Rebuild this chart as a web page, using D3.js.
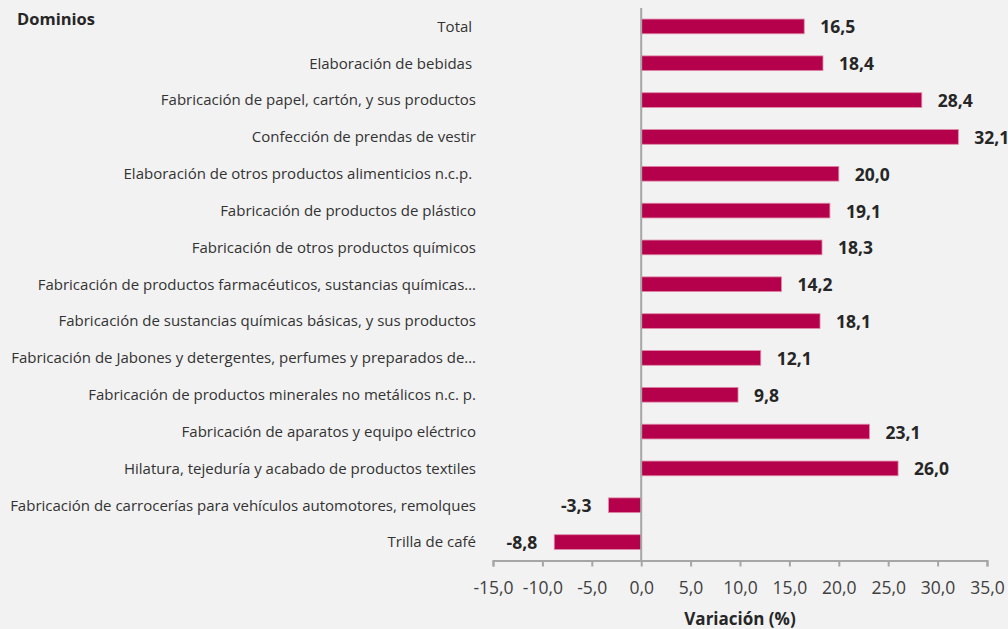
<!DOCTYPE html>
<html><head><meta charset="utf-8">
<script src="https://cdn.jsdelivr.net/npm/d3@7"></script>
<style>
html,body{margin:0;padding:0;background:#f2f2f2;}
svg{display:block;font-family:"Open Sans",sans-serif;}
</style></head><body>
<svg id="c" width="1008" height="629"></svg>
<script>
const categories = [
  "Total ",
  "Elaboración de bebidas ",
  "Fabricación de papel, cartón, y sus productos",
  "Confección de prendas de vestir",
  "Elaboración de otros productos alimenticios n.c.p. ",
  "Fabricación de productos de plástico",
  "Fabricación de otros productos químicos",
  "Fabricación de productos farmacéuticos, sustancias químicas…",
  "Fabricación de sustancias químicas básicas, y sus productos",
  "Fabricación de Jabones y detergentes, perfumes y preparados de…",
  "Fabricación de productos minerales no metálicos n.c. p.",
  "Fabricación de aparatos y equipo eléctrico",
  "Hilatura, tejeduría y acabado de productos textiles",
  "Fabricación de carrocerías para vehículos automotores, remolques",
  "Trilla de café"
];
const values = [16.5, 18.4, 28.4, 32.1, 20.0, 19.1, 18.3, 14.2, 18.1, 12.1, 9.8, 23.1, 26.0, -3.3, -8.8];
const xTicks = [-15, -10, -5, 0, 5, 10, 15, 20, 25, 30, 35];
const yTitle = "Dominios";
const xTitle = "Variación (%)";

const fmt = v => v.toFixed(1).replace(".", ",");
const svg = d3.select("#c");
const axisY = 560.5;
const x = d3.scaleLinear().domain([-15, 35]).range([493, 987]);
const y = d3.scaleBand().domain(categories).range([8, axisY]).paddingInner(0.6).paddingOuter(0.3);

// bars
svg.append("g").selectAll("rect").data(values).join("rect")
  .attr("x", d => x(Math.min(0, d)))
  .attr("width", d => Math.abs(x(d) - x(0)))
  .attr("y", (d, i) => y(categories[i]))
  .attr("height", y.bandwidth())
  .attr("fill", "#b5004b")
  .attr("stroke", "#e08aa8")
  .attr("stroke-width", 0.8);

// value labels
svg.append("g").selectAll("text").data(values).join("text")
  .attr("x", d => d >= 0 ? x(d) + 16 : x(d) - 17)
  .attr("y", (d, i) => y(categories[i]) + y.bandwidth() / 2)
  .attr("dy", "0.4em")
  .attr("text-anchor", d => d >= 0 ? "start" : "end")
  .attr("font-size", 17.5).attr("font-weight", "bold").attr("fill", "#262626")
  .text(fmt);

// category labels
svg.append("g").selectAll("text").data(categories).join("text")
  .attr("x", 476)
  .attr("y", d => y(d) + y.bandwidth() / 2)
  .attr("dy", "0.36em")
  .attr("text-anchor", "end")
  .style("white-space", "pre")
  .attr("font-size", 15).attr("fill", "#333")
  .text(d => d);

// vertical zero line
svg.append("line").attr("x1", x(0)).attr("x2", x(0)).attr("y1", 8).attr("y2", axisY)
  .attr("stroke", "#a6a6a6").attr("stroke-width", 2);

// x axis
const ax = svg.append("g").attr("transform", `translate(0,${axisY})`)
  .call(d3.axisBottom(x).tickValues(xTicks).tickFormat(fmt).tickSize(6).tickPadding(15));
ax.select(".domain").attr("stroke", "#a6a6a6").attr("stroke-width", 2);
ax.selectAll(".tick line").attr("stroke", "#a6a6a6").attr("stroke-width", 2);
ax.selectAll(".tick text").attr("font-size", 17.5).attr("fill", "#404040").attr("font-family", "Open Sans, sans-serif");

svg.append("text").attr("x", 740).attr("y", 625).attr("text-anchor", "middle")
  .attr("font-size", 17).attr("font-weight", "bold").attr("fill", "#262626").text(xTitle);
svg.append("text").attr("x", 17).attr("y", 25)
  .attr("font-size", 16.5).attr("font-weight", "bold").attr("fill", "#262626").text(yTitle);
</script></body></html>
